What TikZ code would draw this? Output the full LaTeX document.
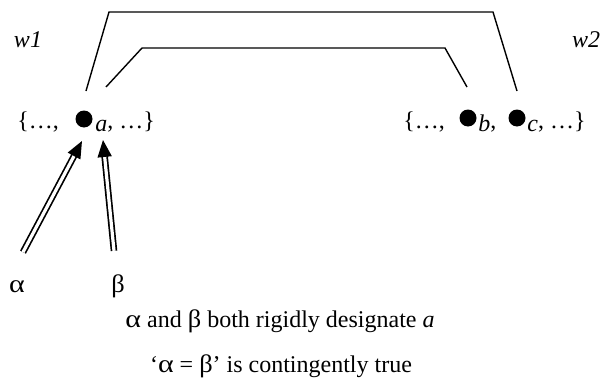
\documentclass[tikz,border=0pt]{standalone}
\usepackage{fontspec}
\setmainfont{Liberation Serif}
\usetikzlibrary{arrows.meta, positioning, calc}

\newcommand\galpha{\scalebox{1.25}[1.05]{α}}
\newcommand\gbeta{\scalebox{1.1}[1.05]{β}}

\begin{document}
\begin{tikzpicture}[
  x=0.5pt, y=-0.5pt,
  font=\fontsize{12}{14}\selectfont,
  world/.style={font=\fontsize{12}{14}\selectfont\itshape, anchor=base},
  settext/.style={inner sep=0pt, anchor=base west},
  elem/.style={circle, fill=black, inner sep=0pt, minimum size=8.5pt},
  link/.style={line width=0.7pt},
  desig/.style={
    double, double distance=1.6pt, line width=0.85pt,
    -{Triangle[length=8.5pt, width=7pt]}
  }
]
  \useasboundingbox (0,0) rectangle (611,380);

  % worlds
  \node[world] (w1) at (28,47) {w1};
  \node[world] (w2) at (586,47) {w2};

  % domain of w1
  \node[settext] (w1l) at (17,128) {\{…,};
  \node[elem] (a) at (84,119) {};
  \node[settext] (w1r) at (95,128) {\raisebox{-1.8pt}{\textit{a}}, …\}};

  % domain of w2
  \node[settext] (w2l) at (403,128) {\{…,};
  \node[elem] (b) at (468,118) {};
  \node[settext] (w2m) at (478,128) {\raisebox{-1.8pt}{\textit{b}},};
  \node[elem] (c) at (517,118) {};
  \node[settext] (w2r) at (527,128) {\raisebox{-1.8pt}{\textit{c}}, …\}};

  % cross-world links
  \coordinate (oa) at ($(a)+(2,-28)$);
  \coordinate (oc) at ($(c)+(0,-27)$);
  \coordinate (ia) at ($(a)+(22,-32)$);
  \coordinate (ib) at ($(b)+(-1,-31)$);
  \draw[link] (oa) -- ($(oa)+(23,-79)$) -- ($(oc)+(-24,-79)$) -- (oc);
  \draw[link] (ia) -- ($(ia)+(36,-39)$) -- ($(ib)+(-22,-39)$) -- (ib);

  % names
  \node[anchor=base] (alpha) at (17,292) {\galpha};
  \node[anchor=base] (beta) at (118,292) {\gbeta};
  \coordinate (alpha-t) at ($(alpha)+(6,-34)$);
  \coordinate (beta-t) at ($(beta)+(-4,-35)$);
  \coordinate (a-l) at ($(a)+(-2,22)$);
  \coordinate (a-r) at ($(a)+(19,21)$);
  \draw[desig] (alpha-t) -- (a-l);
  \draw[desig] (beta-t) -- (a-r);

  % captions
  \node[anchor=base] (cap1) at (280,327) {\galpha{} and \gbeta{} both rigidly designate \textit{a}};
  \node[anchor=base] (cap2) at (281,372) {‘\galpha{} = \gbeta’ is contingently true};
\end{tikzpicture}
\end{document}
